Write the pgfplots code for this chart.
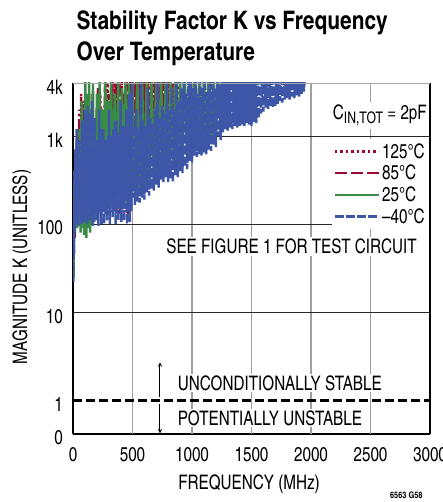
\documentclass[border=0pt]{standalone}
\usepackage{fontspec}
\setmainfont{TeX Gyre Heros Cn}
\newfontfamily\lab[FakeStretch=0.93]{TeX Gyre Heros Cn}
\usepackage{pgfplots}
\pgfplotsset{compat=1.18}
\definecolor{cRed}{RGB}{158,10,45}
\definecolor{cGreen}{RGB}{58,138,72}
\definecolor{cBlue}{RGB}{62,86,168}

\begin{document}
\begin{tikzpicture}
\path[use as bounding box] (-73pt,-68pt) rectangle (370pt,434pt);
\begin{axis}[
    at={(0pt,0pt)}, anchor=south west,
    scale only axis, width=357pt, height=351pt,
    xmin=0, xmax=3000,
    ymode=log, ymin=0.414, ymax=4000,
    xtick={0,500,...,3000},
    ytick={0.414,1,10,100,1000,4000},
    yticklabels={0,1,10,100,1k,4k},
    axis x line=bottom, axis y line=left,
    axis line style={line width=1.6pt,-},
    major tick length=0pt,
    tick label style={font=\lab\fontsize{20}{20}\selectfont},
    /pgf/number format/assume math mode=true,
    /pgf/number format/1000 sep={},
    xticklabel style={anchor=base, inner sep=0pt, yshift=-27pt},
    yticklabel style={anchor=east, inner sep=0pt, xshift=-10pt, yshift=-4pt},
    no markers,
    legend style={at={(rel axis cs:0.997,0.84)}, anchor=north east,
        draw=none, fill=white, inner sep=2pt, row sep=1.5pt,
        font=\lab\fontsize{20}{20}\selectfont},
    legend cell align=left,
    legend image code/.code={\draw[#1] (0pt,0pt) -- (44pt,0pt);},
]
% grid
\draw[gray!75, line width=1.1pt] (axis cs:500,0.414) -- (axis cs:500,4000);
\draw[gray!75, line width=1.1pt] (axis cs:1000,0.414) -- (axis cs:1000,4000);
\draw[gray!75, line width=1.1pt] (axis cs:1500,0.414) -- (axis cs:1500,4000);
\draw[gray!75, line width=1.1pt] (axis cs:2000,0.414) -- (axis cs:2000,4000);
\draw[gray!75, line width=1.1pt] (axis cs:2500,0.414) -- (axis cs:2500,4000);
\draw[black!85, line width=0.8pt] (axis cs:0,10) -- (axis cs:3000,10);
\draw[black!85, line width=0.8pt] (axis cs:0,100) -- (axis cs:3000,100);
\draw[black!85, line width=0.8pt] (axis cs:0,1000) -- (axis cs:3000,1000);

% 125C
\addplot[cRed, line width=2.4pt, dash pattern=on 2.5pt off 3pt] coordinates {
(3,30)(8,200)(14,80)(20,500)(28,120)(36,1000)(44,130)(52,2000)(60,150)(68,3000)(76,140)(84,2500)(92,160)(100,1500)(110,170)(120,1200)(130,140)(140,1800)(150,180)(160,2500)(170,150)(180,1000)(190,160)(200,2000)(215,140)(230,3000)(245,160)(260,1500)(275,200)(290,5000)(305,180)(320,3000)(335,150)(350,5000)(365,200)(380,2500)(395,130)(410,5000)(425,220)(440,4000)(455,120)(470,5000)(485,250)(500,5000)(515,300)(530,5000)(545,350)(560,5000)(575,400)(590,5000)(605,500)(620,5000)(635,450)(650,5000)(665,600)(680,5000)(695,700)(710,5000)(725,800)(740,5000)(755,900)(770,5000)(785,1000)(800,5000)(815,1200)(830,5000)(845,1400)(860,5000)(875,1500)(890,5000)
};
\addlegendentry{125°C}
% 85C
\addplot[cRed, line width=2.4pt, dash pattern=on 12pt off 4pt] coordinates {
(3,25)(9,150)(15,70)(22,400)(30,110)(38,800)(46,120)(54,1500)(62,130)(70,1200)(78,150)(86,2000)(95,140)(105,1000)(115,160)(125,2500)(135,150)(145,1500)(155,170)(165,3000)(175,140)(185,1200)(195,170)(210,3500)(225,150)(240,2000)(255,180)(270,5000)(285,160)(300,3000)(315,200)(330,5000)(345,150)(360,4000)(375,210)(390,5000)(405,120)(420,3000)(435,220)(450,5000)(465,130)(480,5000)(495,260)(510,5000)(525,320)(540,5000)(555,380)(570,5000)(585,420)(600,5000)(615,480)(630,5000)(645,550)(660,5000)(675,650)(690,5000)(705,750)(720,5000)(735,850)(750,5000)(765,950)(780,5000)(795,1100)(810,5000)(825,1300)(840,5000)
};
\addlegendentry{85°C}
% 25C
\addplot[cGreen, line width=2.4pt] coordinates {
(3,25)(7,300)(12,90)(18,700)(24,100)(30,900)(36,90)(42,600)(48,100)(56,1200)(64,80)(72,2500)(80,90)(88,1500)(96,75)(104,5000)(112,70)(120,3000)(128,90)(136,5000)(144,80)(152,2000)(160,100)(168,4000)(176,120)(184,1500)(192,110)(200,3000)(212,130)(224,5000)(236,120)(248,2000)(260,140)(272,5000)(284,130)(296,2500)(308,160)(320,5000)(335,140)(350,3000)(365,170)(380,5000)(395,150)(410,3500)(425,180)(440,5000)(455,160)(470,4000)(485,190)(500,5000)(520,210)(540,5000)(560,230)(580,5000)(600,260)(620,5000)(640,290)(660,5000)(680,320)(700,5000)(720,350)(740,5000)(760,380)(780,5000)(800,420)(820,5000)(840,460)(860,5000)(880,500)(900,5000)(920,550)(940,5000)(960,600)(980,5000)(1000,650)(1020,5000)(1040,700)(1060,5000)(1080,750)(1100,5000)(1120,800)(1140,5000)(1160,900)(1180,5000)(1200,1000)(1220,5000)(1240,1100)(1260,5000)(1280,1200)(1300,5000)
};
\addlegendentry{25°C}
% -40C
\addplot[cBlue, line width=2.4pt, dash pattern=on 9pt off 2pt] coordinates {
(3,22)(6,150)(9,45)(12,400)(15,80)(20,700)(25,100)(30,1200)(35,110)(40,600)(46,95)(52,900)(58,120)(64,450)(70,100)(76,1500)(82,115)(88,700)(94,105)(100,2000)(106,130)(112,800)(118,100)(124,2200)(130,140)(136,600)(142,110)(148,1800)(154,120)(160,2500)(166,95)(172,700)(178,105)(184,1600)(190,130)(196,500)(202,110)(208,900)(214,95)(220,2000)(226,140)(232,700)(238,100)(244,1200)(250,150)(256,1200)(262,100)(268,800)(274,130)(280,900)(286,110)(292,1000)(298,150)(304,2000)(310,100)(316,900)(322,160)(328,1000)(334,120)(340,1200)(346,180)(352,1500)(358,100)(364,1500)(370,140)(376,1100)(382,110)(388,1000)(394,170)(400,2500)(406,105)(412,900)(418,150)(424,1300)(430,110)(436,1000)(442,190)(448,2000)(454,100)(460,1100)(466,160)(472,3000)(478,105)(484,1200)(490,140)(496,5000)(502,200)
(510,1300)(520,165)(530,2000)(540,180)(550,1200)(560,175)(570,5000)(580,200)(590,1500)(600,190)(610,1300)(620,230)(630,3500)(640,210)(650,1600)(660,250)(670,1400)(680,240)(690,2000)(700,280)(710,5000)(720,260)(730,1600)(740,320)(750,2200)(760,300)(770,1800)(780,340)(790,5000)(800,300)(810,2000)(820,330)(830,3500)(840,300)(850,2000)(860,360)(870,5000)(880,340)(890,2500)(900,400)(910,3500)(920,380)(930,5000)(940,450)(950,3000)(960,420)(970,5000)(980,520)(990,5000)(1000,500)(1010,3500)(1020,600)(1030,5000)(1040,580)(1050,3000)(1060,620)(1070,5000)(1080,600)(1090,3500)(1100,650)(1110,5000)(1120,620)(1130,3200)(1140,700)(1150,5000)(1160,680)(1170,5000)(1180,800)(1190,3500)(1200,750)(1210,5000)(1220,1000)(1230,3800)(1240,900)(1250,5000)(1260,1100)(1270,5000)(1280,1200)(1290,5000)(1300,1150)(1310,5000)(1320,1250)(1330,5000)(1340,1200)(1350,5000)(1360,1300)(1370,5000)(1380,1250)(1390,5000)(1400,1300)(1410,5000)(1420,1350)(1430,5000)(1440,1300)(1450,5000)(1460,1400)(1470,5000)(1480,1350)(1490,5000)(1500,1300)(1510,5000)(1520,1450)(1530,5000)(1540,1400)(1550,5000)(1560,1600)(1570,5000)(1580,1800)(1590,5000)(1600,1900)(1610,5000)(1620,2100)(1630,5000)(1640,2000)(1650,5000)(1660,2200)(1670,5000)(1680,2100)(1690,5000)(1700,2200)(1710,5000)(1720,2300)(1730,5000)(1740,2500)(1750,5000)(1760,2400)(1770,5000)(1780,2600)(1790,5000)(1800,2700)(1810,5000)(1820,2600)(1830,5000)(1840,2800)(1850,5000)(1860,2700)(1870,5000)(1880,2900)(1890,5000)(1900,2800)(1910,5000)(1920,3000)(1930,5000)(1940,3200)(1950,5000)
};
\addlegendentry{–40°C}

% stability boundary
\draw[black, line width=2.6pt, dash pattern=on 9pt off 4pt] (axis cs:0,1) -- (axis cs:3000,1);
\draw[-stealth, line width=1pt] (axis cs:731,1.08) -- (axis cs:731,2.7);
\draw[-stealth, line width=1pt] (axis cs:731,0.9) -- (axis cs:731,0.42);

% labels
\node[fill=white, inner sep=1.5pt, anchor=base west, font=\lab\fontsize{20}{20}\selectfont] at (axis cs:866,1.30) {UNCONDITIONALLY STABLE};
\node[fill=white, inner sep=1.5pt, anchor=base west, font=\lab\fontsize{20}{20}\selectfont] at (axis cs:866,0.52) {POTENTIALLY UNSTABLE};
\node[fill=white, inner sep=2pt, font=\lab\fontsize{20}{20}\selectfont] at (axis cs:1836,56) {SEE FIGURE 1 FOR TEST CIRCUIT};
\node[fill=white, inner sep=3pt, anchor=east, font=\lab\fontsize{20}{20}\selectfont] at (axis cs:3000,1700) {C\raisebox{-4pt}{\fontsize{16}{16}\selectfont IN,TOT} = 2pF};
\end{axis}
% right and top frame
\draw[black, line width=1.6pt] (357pt,0pt) -- (357pt,351pt);
\draw[gray!70, line width=0.8pt] (0pt,351pt) -- (357pt,351pt);

\node[anchor=base west, font=\fontsize{25.5}{25}\selectfont\bfseries] at (0pt,404pt) {Stability Factor K vs Frequency};
\node[anchor=base west, font=\fontsize{25.5}{25}\selectfont\bfseries] at (0pt,373pt) {Over Temperature};
\node[anchor=base, font=\lab\fontsize{20}{20}\selectfont] at (176pt,-55pt) {FREQUENCY (MHz)};
\node[anchor=base, rotate=90, font=\lab\fontsize{20}{20}\selectfont] at (-46pt,167pt) {MAGNITUDE K (UNITLESS)};
\node[anchor=base east, font=\fontsize{9}{9}\selectfont\bfseries] at (353pt,-64pt) {6563 G58};
\end{tikzpicture}
\end{document}
